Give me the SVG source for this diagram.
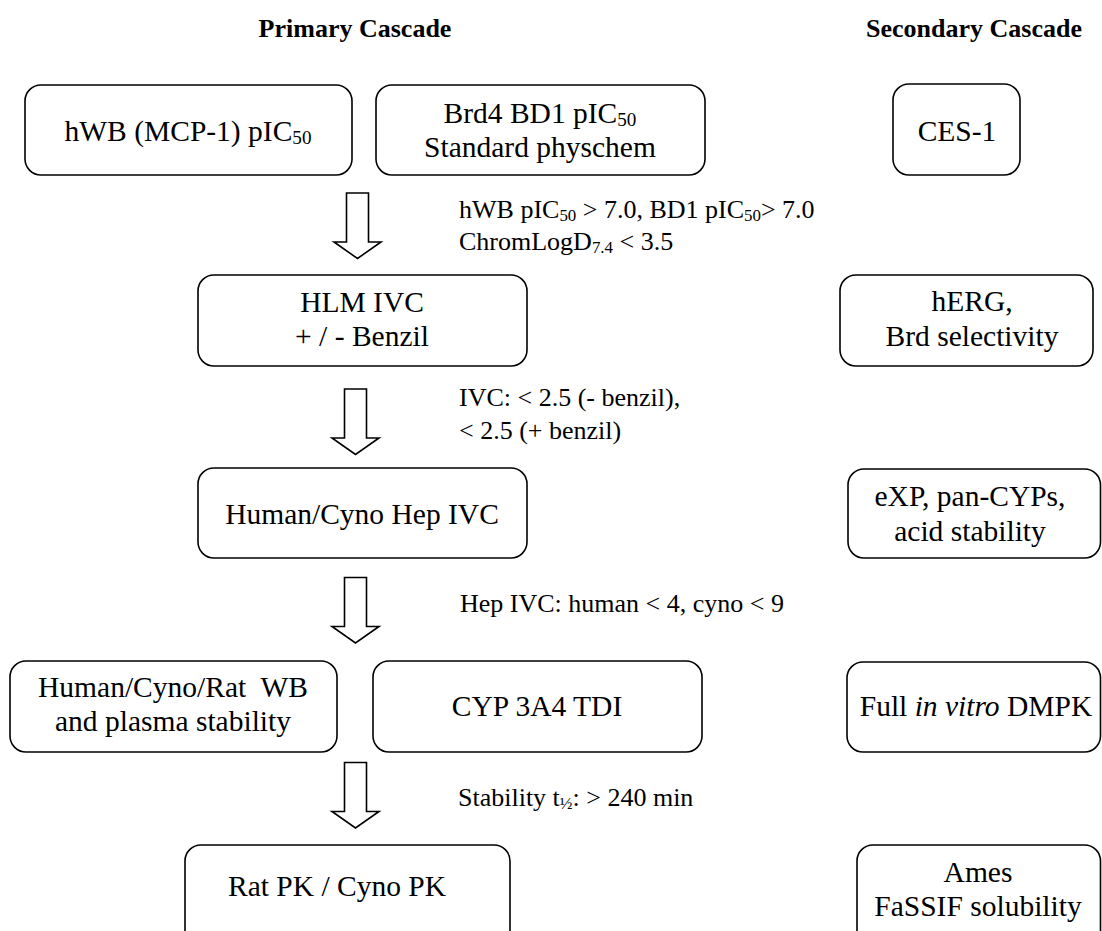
<svg xmlns="http://www.w3.org/2000/svg" width="1102" height="931" viewBox="0 0 1102 931">
  <style>
    .box { fill: #ffffff; stroke: #000000; stroke-width: 1.6; }
    .arrow { fill: #ffffff; stroke: #000000; stroke-width: 1.6; stroke-linejoin: miter; }
    .title { font-family: "Liberation Serif", "Times New Roman", serif; font-weight: bold; font-size: 26px; fill: #000; text-anchor: middle; }
    .t { font-family: "Liberation Serif", "Times New Roman", serif; font-size: 29.5px; fill: #000; text-anchor: middle; }
    .lbl { font-family: "Liberation Serif", "Times New Roman", serif; font-size: 26px; fill: #000; }
    .sub { font-size: 0.65em; }
  </style>
  <defs>
    <!-- hollow block arrow pointing down, origin at shaft top centre -->
    <path id="downArrow" d="M -11 0 L 11 0 L 11 49 L 23.5 49 L 0 65.5 L -23.5 49 L -11 49 Z"/>
  </defs>

  <rect width="1102" height="931" fill="#ffffff"/>

  <!-- column headings -->
  <text class="title" x="355" y="37">Primary Cascade</text>
  <text class="title" x="974" y="37">Secondary Cascade</text>

  <!-- primary cascade, row 1 -->
  <g id="hwb">
    <rect class="box" x="25" y="85" width="327" height="90" rx="16"/>
    <text class="t" x="188" y="141">hWB (MCP-1) pIC<tspan class="sub" dy="3">50</tspan></text>
  </g>
  <g id="brd4">
    <rect class="box" x="376" y="85" width="329" height="90" rx="16"/>
    <text class="t" x="540" y="123">Brd4 BD1 pIC<tspan class="sub" dy="3">50</tspan></text>
    <text class="t" x="540" y="157">Standard physchem</text>
  </g>
  <g id="ces1">
    <rect class="box" x="893" y="84" width="127" height="91" rx="16"/>
    <text class="t" x="957" y="141">CES-1</text>
  </g>

  <!-- row 2 -->
  <g id="hlm">
    <rect class="box" x="198" y="275" width="329" height="91" rx="16"/>
    <text class="t" x="362" y="312">HLM IVC</text>
    <text class="t" x="362" y="346">+ / - Benzil</text>
  </g>
  <g id="herg">
    <rect class="box" x="840" y="275" width="253" height="91" rx="16"/>
    <text class="t" x="972" y="311">hERG,</text>
    <text class="t" x="972" y="346">Brd selectivity</text>
  </g>

  <!-- row 3 -->
  <g id="hep">
    <rect class="box" x="198" y="468" width="329" height="90" rx="16"/>
    <text class="t" x="362" y="524">Human/Cyno Hep IVC</text>
  </g>
  <g id="exp">
    <rect class="box" x="848" y="469" width="252.5" height="89" rx="16"/>
    <text class="t" x="970" y="506">eXP, pan-CYPs,</text>
    <text class="t" x="970" y="541">acid stability</text>
  </g>

  <!-- row 4 -->
  <g id="wb">
    <rect class="box" x="10" y="661" width="327" height="91" rx="16"/>
    <text class="t" x="173" y="697">Human/Cyno/Rat&#160; WB</text>
    <text class="t" x="173" y="731">and plasma stability</text>
  </g>
  <g id="cyp">
    <rect class="box" x="373" y="661" width="329" height="91" rx="16"/>
    <text class="t" x="537" y="716">CYP 3A4 TDI</text>
  </g>
  <g id="dmpk">
    <rect class="box" x="847" y="662" width="253.5" height="90" rx="16"/>
    <text class="t" x="976" y="716">Full <tspan font-style="italic">in vitro</tspan> DMPK</text>
  </g>

  <!-- row 5 -->
  <g id="pk">
    <rect class="box" x="185" y="845" width="325" height="110" rx="16"/>
    <text class="t" x="337" y="896">Rat PK / Cyno PK</text>
  </g>
  <g id="ames">
    <rect class="box" x="857" y="845" width="243.5" height="110" rx="16"/>
    <text class="t" x="978" y="882">Ames</text>
    <text class="t" x="978" y="916">FaSSIF solubility</text>
  </g>

  <!-- connectors between the primary stages -->
  <g id="connectors">
    <use href="#downArrow" class="arrow" x="357.5" y="193"/>
    <use href="#downArrow" class="arrow" x="355.5" y="389"/>
    <use href="#downArrow" class="arrow" x="355.5" y="577.5"/>
    <use href="#downArrow" class="arrow" x="355.5" y="762.5"/>
  </g>

  <!-- progression criteria -->
  <g id="criteria">
    <text class="lbl" x="459" y="218">hWB pIC<tspan class="sub" dy="3">50</tspan><tspan dy="-3"> &gt; 7.0, BD1 pIC</tspan><tspan class="sub" dy="3">50</tspan><tspan dy="-3">&gt; 7.0</tspan></text>
    <text class="lbl" x="459" y="250">ChromLogD<tspan class="sub" dy="3">7.4</tspan><tspan dy="-3"> &lt; 3.5</tspan></text>
    <text class="lbl" x="459" y="406">IVC: &lt; 2.5 (- benzil),</text>
    <text class="lbl" x="459" y="439">&lt; 2.5 (+ benzil)</text>
    <text class="lbl" x="460" y="612">Hep IVC: human &lt; 4, cyno &lt; 9</text>
    <text class="lbl" x="458" y="806">Stability t<tspan class="sub" dy="3">½</tspan><tspan dy="-3">: &gt; 240 min</tspan></text>
  </g>
</svg>
